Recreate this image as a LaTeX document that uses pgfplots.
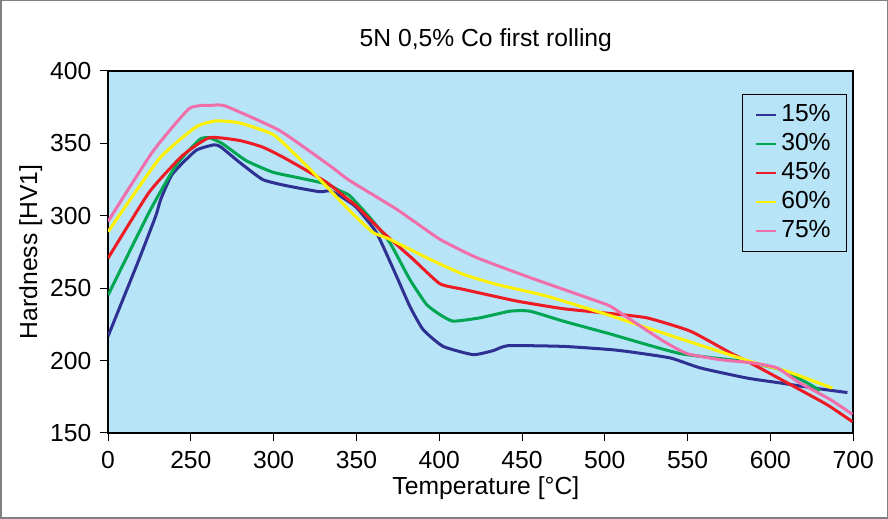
\documentclass[border=0pt]{standalone}
\usepackage{pgfplots}
\pgfplotsset{compat=1.18}
\usepackage{fontspec}
\setmainfont{Liberation Sans}
\definecolor{bgblue}{RGB}{184,228,248}
\definecolor{cblue}{RGB}{46,49,146}
\definecolor{cgreen}{RGB}{0,166,81}
\definecolor{cred}{RGB}{237,28,36}
\definecolor{cyellow}{RGB}{255,242,0}
\definecolor{cpink}{RGB}{240,110,170}
\begin{document}
\fontsize{12.3}{14.5}\selectfont
\begin{tikzpicture}
\begin{axis}[
  scale only axis,
  width=371.5pt, height=180.5pt,
  xmin=0, xmax=9, ymin=150, ymax=400,
  xtick={0,1,2,3,4,5,6,7,8,9},
  xticklabels={0,250,300,350,400,450,500,550,600,700},
  ytick={150,200,250,300,350,400},
  /pgf/number format/assume math mode=true,
  tick align=outside,
  major tick length=4pt,
  tick style={black, line width=0.5pt},
  xtick pos=bottom, ytick pos=left,
  xticklabel style={yshift=-1pt},
  axis line style={black, line width=1.1pt},
  axis background/.style={fill=bgblue},
  title={5N 0,5\% Co first rolling},
  title style={at={(axis description cs:0.507,1.086)}, anchor=center, yshift=-6pt},
  xlabel={Temperature [°C]},
  xlabel style={at={(axis description cs:0.507,-0.152)}, anchor=center},
  ylabel={Hardness [HV1]},
  ylabel style={at={(axis description cs:-0.1036,0.5)}, anchor=center},
  legend style={at={(rel axis cs:0.992,0.936)}, anchor=north east,
    fill=bgblue, draw=black, line width=0.5pt, row sep=0pt,
    inner xsep=6pt, inner ysep=3pt},
  legend cell align=left,
  legend image code/.code={\draw[#1, line width=1.1pt] (0pt,0pt) -- (10pt,0pt);},
  every axis plot/.append style={line width=1.5pt, smooth, tension=0.3},
]
\addplot[cblue] coordinates {
(0,216.8) (0.375,270.0) (0.577,300.0) (0.638,311.6) (0.778,328.9) (1.062,345.1)
(1.283,349.0) (1.364,347.4) (1.586,337.0) (1.868,325.0) (2.151,320.8) (2.554,316.6)
(2.676,317.3) (2.797,313.9) (2.918,309.3) (2.999,305.8) (3.241,288.5) (3.483,258.4)
(3.644,237.6) (3.805,221.4) (4.047,209.8) (4.410,204.1) (4.653,206.9) (4.834,210.3)
(5.500,209.8) (6.065,207.6) (6.308,206.0) (6.792,201.8) (7.155,194.9) (7.720,187.9)
(8.123,184.5) (8.527,181.0) (8.931,177.9)};
\addlegendentry{15\%}
\addplot[cgreen] coordinates {
(0,245.2) (0.496,302.4) (0.820,334.7) (1.102,352.5) (1.223,353.9) (1.384,349.7)
(1.667,338.1) (1.989,330.1) (2.312,326.1) (2.636,322.0) (2.797,317.3) (2.918,313.9)
(3.160,298.9) (3.402,281.6) (3.644,256.1) (3.846,238.8) (4.007,231.8) (4.168,227.2)
(4.492,229.5) (4.855,234.1) (5.097,234.1) (5.500,227.2) (6.065,218.4) (6.226,215.7)
(6.913,204.8) (7.679,199.4) (8.123,193.7) (8.447,184.5) (8.599,179.3)};
\addlegendentry{30\%}
\addplot[cred] coordinates {
(0,270.7) (0.496,316.2) (0.900,341.6) (1.223,353.9) (1.586,352.0) (1.868,347.4)
(2.151,339.3) (2.636,323.2) (2.918,310.4) (2.999,306.9) (3.321,288.5) (3.684,270.0)
(4.007,253.1) (4.289,249.2) (4.936,241.1) (5.500,235.8) (6.065,232.5) (6.510,229.5)
(7.034,220.3) (7.518,205.3) (7.800,197.1) (8.285,182.1) (8.689,169.4) (8.991,157.8)};
\addlegendentry{45\%}
\addplot[cyellow] coordinates {
(0,288.9) (0.617,339.3) (1.062,361.3) (1.304,365.5) (1.586,364.1) (2.010,355.5)
(2.473,330.1) (2.918,303.5) (3.200,288.5) (3.402,283.8) (3.886,270.0) (4.289,259.6)
(4.694,252.6) (5.299,244.5) (6.065,231.1) (6.510,222.6) (7.316,207.6) (7.800,198.7)
(8.204,192.5) (8.749,181.0)};
\addlegendentry{60\%}
\addplot[cpink] coordinates {
(0,296.1) (0.536,344.0) (0.981,374.0) (1.263,376.3) (1.425,375.6) (2.070,358.9)
(2.676,334.7) (2.918,324.3) (3.483,304.6) (4.007,283.8) (4.452,271.1) (5.097,257.3)
(5.904,241.1) (6.065,237.6) (6.308,228.4) (6.711,213.3) (6.994,204.8) (7.397,200.6)
(7.800,198.3) (8.083,194.9) (8.326,185.6) (8.729,172.9) (8.991,162.9)};
\addlegendentry{75\%}
\end{axis}
\draw[gray, line width=0.75pt]
  ([xshift=-53.5pt,yshift=-42.5pt]current axis.south west) rectangle
  ([xshift=17pt,yshift=35pt]current axis.north east);
\end{tikzpicture}
\end{document}
